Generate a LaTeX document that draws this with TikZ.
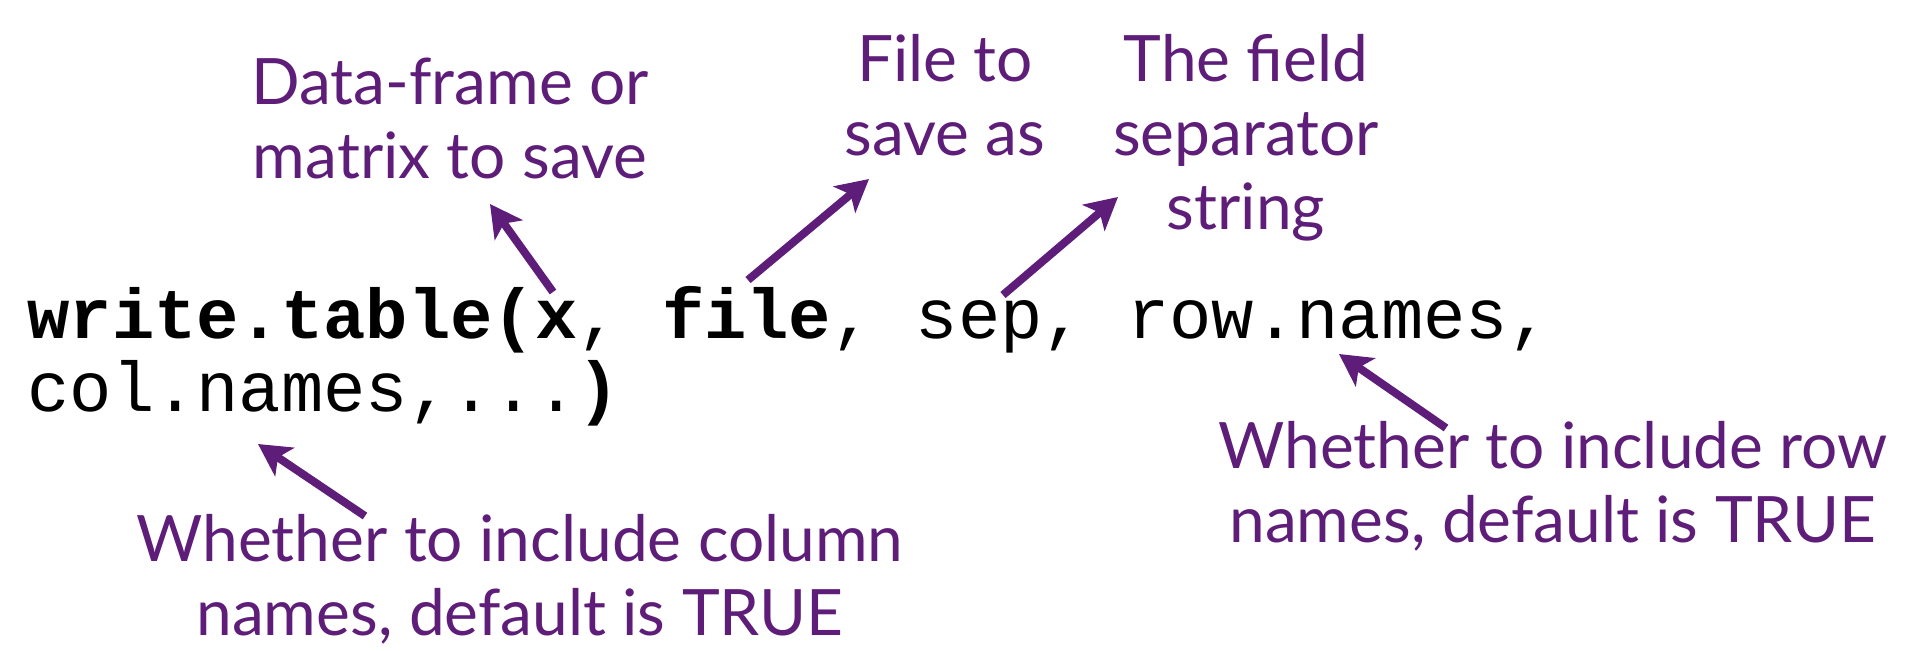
\documentclass[tikz,border=0pt]{standalone}
\usepackage{fontspec}
\setmainfont{Lato}
\setmonofont{Liberation Mono}
\usepackage{tikz}
\usetikzlibrary{positioning}
\usetikzlibrary{arrows.meta}
\definecolor{notepurple}{HTML}{5E1D78}

\begin{document}
\begin{tikzpicture}[
    x=0.5pt, y=-0.5pt, % units are pixels of the slide, y going down
    ]
% -------------------------------------------------
\tikzset{
  note/.style={align=center, anchor=base, inner sep=0pt, text=notepurple,
    font=\fontsize{32}{37}\selectfont},
  code/.style={anchor=base west, inner sep=0pt,
    font=\ttfamily\fontsize{35.25}{36}\selectfont},
  line/.style={draw=notepurple, line width=4pt,
    -{Stealth[length=16pt, width=17pt, inset=4pt]}}
}
% -------------------------------------------------
\useasboundingbox (0,0) rectangle (1906,650);

% The call
\node [code] (c0) at (27,338) {\textbf{write.table(x}, \textbf{file}, sep, row.names,};
\node [code] (c1) at (27,411) {col.names,...\textbf{)}};

% The notes (placed by the baseline of their last line)
\node [note] (n0) at (450,178)  {Data-frame or\\matrix to save};
\node [note] (n1) at (945,155)  {File to\\save as};
\node [note] (n2) at (1246,229) {The field\\separator\\string};
\node [note] (n3) at (520,635)  {Whether to include column\\names, default is TRUE};
\node [note] (n4) at (1553,542) {Whether to include row\\names, default is TRUE};

% Arrow ends
\coordinate (x0) at (553,292);  \coordinate (t0) at (490,204);
\coordinate (x1) at (748,280);  \coordinate (t1) at (869,179);
\coordinate (x2) at (1003,295); \coordinate (t2) at (1118,197);
\coordinate (x3) at (365,516);  \coordinate (t3) at (258,444);
\coordinate (x4) at (1446,428); \coordinate (t4) at (1339,354);

\path [line] (x0) -- (t0);
\path [line] (x1) -- (t1);
\path [line] (x2) -- (t2);
\path [line] (x3) -- (t3);
\path [line] (x4) -- (t4);

\end{tikzpicture}
\end{document}
